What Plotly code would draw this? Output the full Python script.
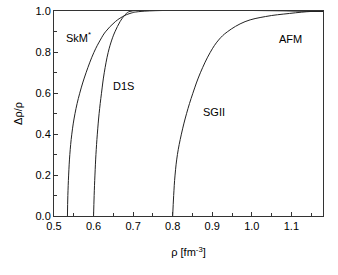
import plotly.graph_objects as go

frac = [0.0, 0.1, 0.2, 0.3, 0.4, 0.5, 0.6, 0.7, 0.8, 0.86, 0.9, 0.95, 0.975, 0.99, 1.0, 1.0]
rho_skm = [0.534, 0.535, 0.537, 0.540, 0.545, 0.553, 0.565, 0.581, 0.601, 0.617, 0.630, 0.655, 0.674, 0.692, 0.720, 1.18]
rho_d1s = [0.600, 0.6015, 0.6035, 0.606, 0.6095, 0.614, 0.620, 0.627, 0.637, 0.646, 0.654, 0.667, 0.676, 0.683, 0.692, 1.18]
rho_sgii = [0.800, 0.8025, 0.806, 0.812, 0.822, 0.835, 0.851, 0.870, 0.895, 0.916, 0.938, 0.983, 1.035, 1.095, 1.152, 1.18]

labels = ["SkM<sup>*</sup>", "D1S", "SGII", "AFM"]
label_x = [0.563, 0.675, 0.905, 1.097]
label_y = [0.877, 0.635, 0.51, 0.867]

FONT = "Liberation Sans, Arial"

fig = go.Figure()
for xs in (rho_skm, rho_d1s, rho_sgii):
    fig.add_trace(go.Scatter(x=xs, y=frac, mode="lines",
                             line=dict(color="#222", width=1, shape="spline", smoothing=1.1),
                             showlegend=False, hoverinfo="skip"))

for t, x, y in zip(labels, label_x, label_y):
    fig.add_annotation(x=x, y=y, text=t, showarrow=False,
                       font=dict(size=11, color="black", family=FONT))

axis_common = dict(showline=True, mirror=True, linecolor="#333", linewidth=1,
                   ticks="inside", ticklen=4, tickcolor="#333", showgrid=False, zeroline=False,
                   ticklabeloverflow="allow",
                   tickfont=dict(size=11, color="black", family=FONT))

fig.update_xaxes(range=[0.5, 1.18], tick0=0.5, dtick=0.1, tickformat=".1f",
                 minor=dict(ticks="inside", ticklen=3, dtick=0.05, tickcolor="#333"),
                 title=dict(text="ρ [fm<sup>-3</sup>]", standoff=17,
                            font=dict(size=11, color="black", family=FONT)),
                 **axis_common)
fig.update_yaxes(range=[0, 1.002], tick0=0, dtick=0.2, tickformat=".1f",
                 minor=dict(ticks="inside", ticklen=3, dtick=0.1, tickcolor="#333"),
                 title=dict(text="Δρ/ρ", standoff=10,
                            font=dict(size=11, color="black", family=FONT)),
                 **axis_common)

fig.update_layout(width=338, height=275, margin=dict(l=54, r=15, t=5, b=59),
                  plot_bgcolor="white", paper_bgcolor="white")

fig.write_html("out.html", config={"displayModeBar": False},
               post_script="document.body.style.margin='0';")
